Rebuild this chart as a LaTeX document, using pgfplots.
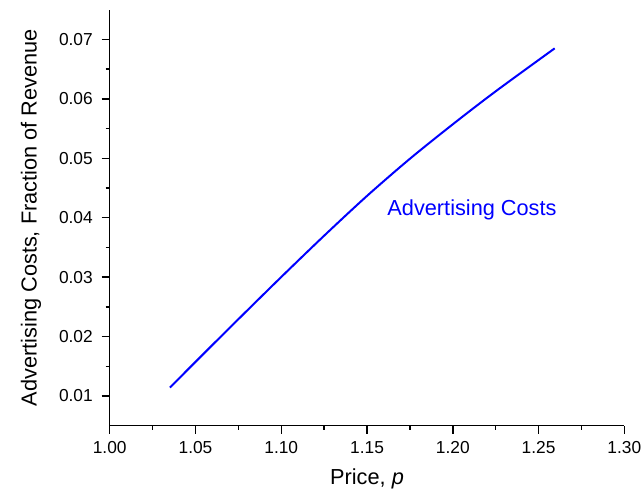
\documentclass[border=0pt]{standalone}
\usepackage{fontspec}
\setmainfont{Liberation Sans}
\usepackage{pgfplots}
\pgfplotsset{compat=1.18}

\begin{document}
\begin{tikzpicture}
\begin{axis}[
    scale only axis,
    width=386pt, height=312pt,
    xmin=1.00, xmax=1.30,
    ymin=0.005, ymax=0.075,
    xtick={1.00,1.05,...,1.301},
    ytick={0.01,0.02,...,0.071},
    minor tick num=1,
    axis lines=left,
    axis line style={-, line width=1.1pt},
    tick align=outside,
    tick style={black, line width=1.1pt},
    major tick length=6pt,
    minor tick length=3pt,
    /pgf/number format/assume math mode=true,
    /pgf/number format/fixed,
    /pgf/number format/fixed zerofill,
    xticklabel style={/pgf/number format/precision=2, font=\fontsize{13}{15}\selectfont, yshift=-2.5pt},
    yticklabel style={/pgf/number format/precision=2, font=\fontsize{13}{15}\selectfont, xshift=-3.2pt},
    scaled ticks=false,
    xlabel={Price, \textit{p}},
    ylabel={Advertising Costs, Fraction of Revenue},
    label style={font=\fontsize{16.3}{19}\selectfont},
    xlabel shift=4pt,
    ylabel shift=6.5pt,
    clip=false,
]
\addplot[color={rgb,255:red,0;green,0;blue,255}, line width=1.5pt, smooth] coordinates {
    (1.0351, 0.0114)
    (1.050, 0.01574)
    (1.075, 0.02292)
    (1.100, 0.03002)
    (1.125, 0.03697)
    (1.150, 0.04367)
    (1.175, 0.04992)
    (1.200, 0.05572)
    (1.225, 0.06127)
    (1.2594, 0.0685)
};
\node[text={rgb,255:red,0;green,0;blue,255}, font=\fontsize{16.3}{19}\selectfont]
    at (axis cs:1.2112,0.0413) {Advertising Costs};
\coordinate (bl) at (rel axis cs:0,0);
\coordinate (tr) at (rel axis cs:1,1);
\end{axis}
\pgfresetboundingbox
\path[use as bounding box] ([shift={(-82.3pt,-51.2pt)}]bl) rectangle ([shift={(14pt,7.3pt)}]tr);
\end{tikzpicture}
\end{document}
